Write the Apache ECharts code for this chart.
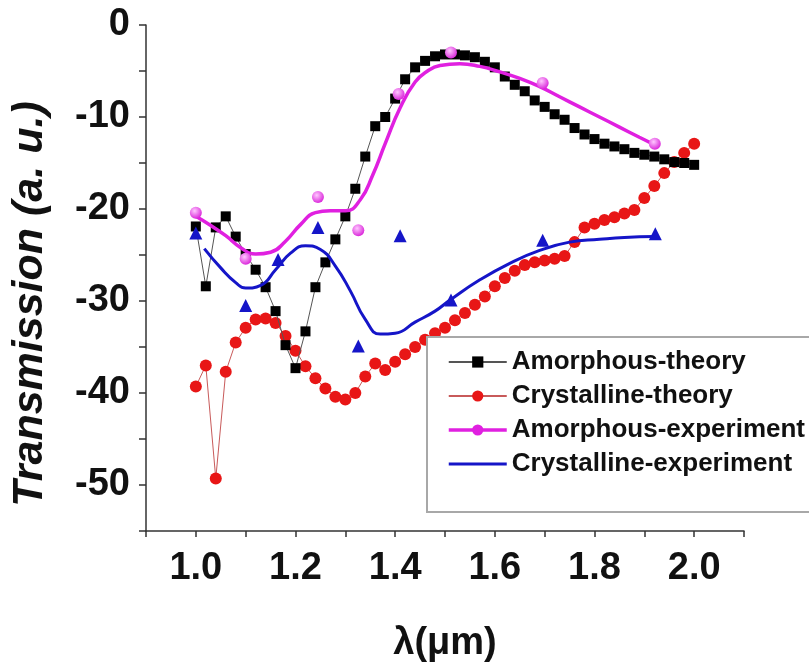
<!DOCTYPE html>
<html>
<head>
<meta charset="utf-8">
<script src="https://cdn.jsdelivr.net/npm/echarts@6/dist/echarts.min.js"></script>
<style>
  html, body { margin: 0; padding: 0; background: #fff; }
  #chart { width: 809px; height: 666px; }
</style>
</head>
<body>
<div id="chart"></div>
<script>
// wavelength grid of the theory curves (um)
const lambdaTheory = [];
for (let i = 0; i <= 50; i++) lambdaTheory.push(+(1 + i * 0.02).toFixed(2));

const amoTheory = [
  -21.9, -28.4, -22.0, -20.8, -23.0, -24.9, -26.6, -28.5, -31.1, -34.8,
  -37.3, -33.3, -28.5, -25.8, -23.3, -20.8, -17.8, -14.3, -11.0, -10.0,
  -8.0, -5.9, -4.6, -3.9, -3.4, -3.2, -3.2, -3.3, -3.5, -4.0,
  -4.6, -5.6, -6.5, -7.2, -8.2, -8.9, -9.7, -10.3, -11.2, -11.9,
  -12.4, -12.9, -13.2, -13.5, -13.9, -14.1, -14.3, -14.6, -14.9, -15.0,
  -15.2
];
const cryTheory = [
  -39.3, -37.0, -49.3, -37.7, -34.5, -32.9, -32.0, -31.9, -32.4, -33.8,
  -35.4, -37.1, -38.4, -39.5, -40.4, -40.7, -40.0, -38.2, -36.8, -37.5,
  -36.6, -35.8, -35.0, -34.2, -33.5, -32.9, -32.1, -31.3, -30.4, -29.5,
  -28.4, -27.5, -26.7, -26.1, -25.8, -25.6, -25.4, -25.1, -23.6, -22.0,
  -21.6, -21.2, -20.9, -20.5, -20.1, -18.8, -17.5, -16.1, -14.9, -13.9,
  -12.9
];

// measured points
const amoExpX = [1.00, 1.10, 1.245, 1.326, 1.407, 1.512, 1.696, 1.921];
const amoExpY = [-20.4, -25.4, -18.7, -22.3, -7.5, -3.0, -6.3, -12.9];
const cryExpX = [1.00, 1.10, 1.165, 1.245, 1.326, 1.41, 1.512, 1.696, 1.922];
const cryExpY = [-22.6, -30.5, -25.5, -22.0, -34.9, -22.9, -29.9, -23.4, -22.7];

// smoothed fits through the measured points
const amoFitX = [1.00, 1.03, 1.06, 1.09, 1.12, 1.15, 1.18, 1.21, 1.24, 1.27, 1.30, 1.33,
  1.355, 1.38, 1.41, 1.44, 1.465, 1.49, 1.53, 1.57, 1.61, 1.65, 1.69, 1.73, 1.77, 1.81, 1.85, 1.89, 1.92];
const amoFitY = [-20.8, -21.8, -22.9, -24.2, -24.9, -24.7, -23.5, -21.7, -20.4, -20.2, -20.2, -19.0,
  -16.3, -12.9, -9.0, -6.2, -5.0, -4.4, -4.2, -4.5, -5.1, -5.8, -6.7, -7.8, -8.9, -10.0, -11.1, -12.2, -13.0];
const cryFitX = [1.017, 1.05, 1.08, 1.10, 1.13, 1.16, 1.19, 1.22, 1.25, 1.28, 1.31, 1.34, 1.37,
  1.40, 1.44, 1.48, 1.51, 1.57, 1.63, 1.69, 1.75, 1.81, 1.86, 1.92];
const cryFitY = [-24.3, -26.4, -28.0, -28.6, -28.3, -26.6, -24.8, -24.0, -24.4, -26.2, -28.9, -32.0, -33.6,
  -33.5, -32.3, -31.1, -29.9, -27.7, -25.9, -24.5, -23.6, -23.3, -23.1, -23.0];

const xTicks = ['1.0', '1.2', '1.4', '1.6', '1.8', '2.0'];
const yTicks = ['0', '-10', '-20', '-30', '-40', '-50'];

const zip = (xs, ys) => xs.map((x, i) => [x, ys[i]]);

const FONT = '"Liberation Sans", Arial, sans-serif';
const PINK = '#e020e0';
const BLUE = '#1515c8';

const chart = echarts.init(document.getElementById('chart'));

const option = {
  animation: false,
  backgroundColor: '#fff',
  grid: { left: 146, top: 25, width: 598, height: 506, containLabel: false, outerBoundsMode: 'none' },
  xAxis: {
    type: 'value', min: 0.9, max: 2.1, interval: 0.1,
    name: 'λ(μm)', nameLocation: 'middle', nameGap: 94,
    nameTextStyle: { fontFamily: FONT, fontWeight: 'bold', fontSize: 38, color: '#111' },
    axisLine: { onZero: false, lineStyle: { color: '#333', width: 1.5 } },
    axisTick: { inside: false, length: 6, lineStyle: { color: '#333', width: 1.5 } },
    splitLine: { show: false },
    axisLabel: {
      margin: 19, fontFamily: FONT, fontWeight: 'bold', fontSize: 38, color: '#111',
      showMinLabel: true, showMaxLabel: true,
      formatter: v => { const s = v.toFixed(1); return xTicks.indexOf(s) >= 0 ? s : ''; }
    }
  },
  yAxis: {
    type: 'value', min: -55, max: 0, interval: 5,
    name: 'Transmission (a. u.)', nameLocation: 'middle', nameGap: 94, nameRotate: 90,
    nameTextStyle: { fontFamily: FONT, fontWeight: 'bold', fontStyle: 'italic', fontSize: 43, color: '#111',
      padding: [0, 52, 0, 0] },
    axisLine: { onZero: false, lineStyle: { color: '#333', width: 1.5 } },
    axisTick: { inside: false, length: 7, lineStyle: { color: '#333', width: 1.5 } },
    splitLine: { show: false },
    axisLabel: {
      margin: 16, fontFamily: FONT, fontWeight: 'bold', fontSize: 38, color: '#111',
      formatter: v => { const s = String(v); return yTicks.indexOf(s) >= 0 ? s : ''; }
    }
  },
  legend: {
    orient: 'vertical', left: 447, top: 348, z: 10, padding: 0,
    itemWidth: 58, itemHeight: 14, itemGap: 6,
    textStyle: { fontFamily: FONT, fontWeight: 'bold', fontSize: 26, lineHeight: 28, color: '#111' },
    data: [
      'Amorphous-theory',
      'Crystalline-theory',
      { name: 'Amorphous-experiment', lineStyle: { width: 3.5 } },
      { name: 'Crystalline-experiment', itemStyle: { opacity: 0 }, lineStyle: { width: 3 } }
    ]
  },
  graphic: [{
    type: 'rect', z: 5, silent: true,
    shape: { x: 427, y: 337, width: 420, height: 175 },
    style: { fill: '#fff', stroke: '#a8a8a8', lineWidth: 2 }
  }],
  series: [
    {
      name: 'Crystalline-theory', type: 'line', z: 2,
      data: zip(lambdaTheory, cryTheory),
      symbol: 'circle', symbolSize: 12,
      itemStyle: { color: '#e81616' },
      lineStyle: { color: '#c85a5a', width: 1 }
    },
    {
      name: 'Amorphous-theory', type: 'line', z: 3,
      data: zip(lambdaTheory, amoTheory),
      symbol: 'rect', symbolSize: 10,
      itemStyle: { color: '#000' },
      lineStyle: { color: '#555', width: 1 }
    },
    {
      name: 'Crystalline-experiment', type: 'line', z: 4,
      data: zip(cryFitX, cryFitY), smooth: 0.5,
      symbol: 'none',
      itemStyle: { color: BLUE },
      lineStyle: { color: BLUE, width: 3 }
    },
    {
      name: 'Amorphous-experiment', type: 'line', z: 4,
      data: zip(amoFitX, amoFitY), smooth: 0.5,
      symbol: 'circle', symbolSize: 10, showSymbol: false,
      itemStyle: { color: PINK },
      lineStyle: { color: PINK, width: 3.5 }
    },
    {
      name: 'Crystalline-experiment', type: 'scatter', z: 4,
      data: zip(cryExpX, cryExpY),
      symbol: 'triangle', symbolSize: 13,
      itemStyle: { color: BLUE, opacity: 1 }
    },
    {
      name: 'Amorphous-experiment', type: 'scatter', z: 4,
      data: zip(amoExpX, amoExpY),
      symbol: 'circle', symbolSize: 12,
      itemStyle: {
        opacity: 1,
        color: { type: 'radial', x: 0.4, y: 0.35, r: 0.7,
          colorStops: [{ offset: 0, color: '#ffc8ff' }, { offset: 1, color: '#d81ed8' }] }
      }
    }
  ]
};

chart.setOption(option);
</script>
</body>
</html>
